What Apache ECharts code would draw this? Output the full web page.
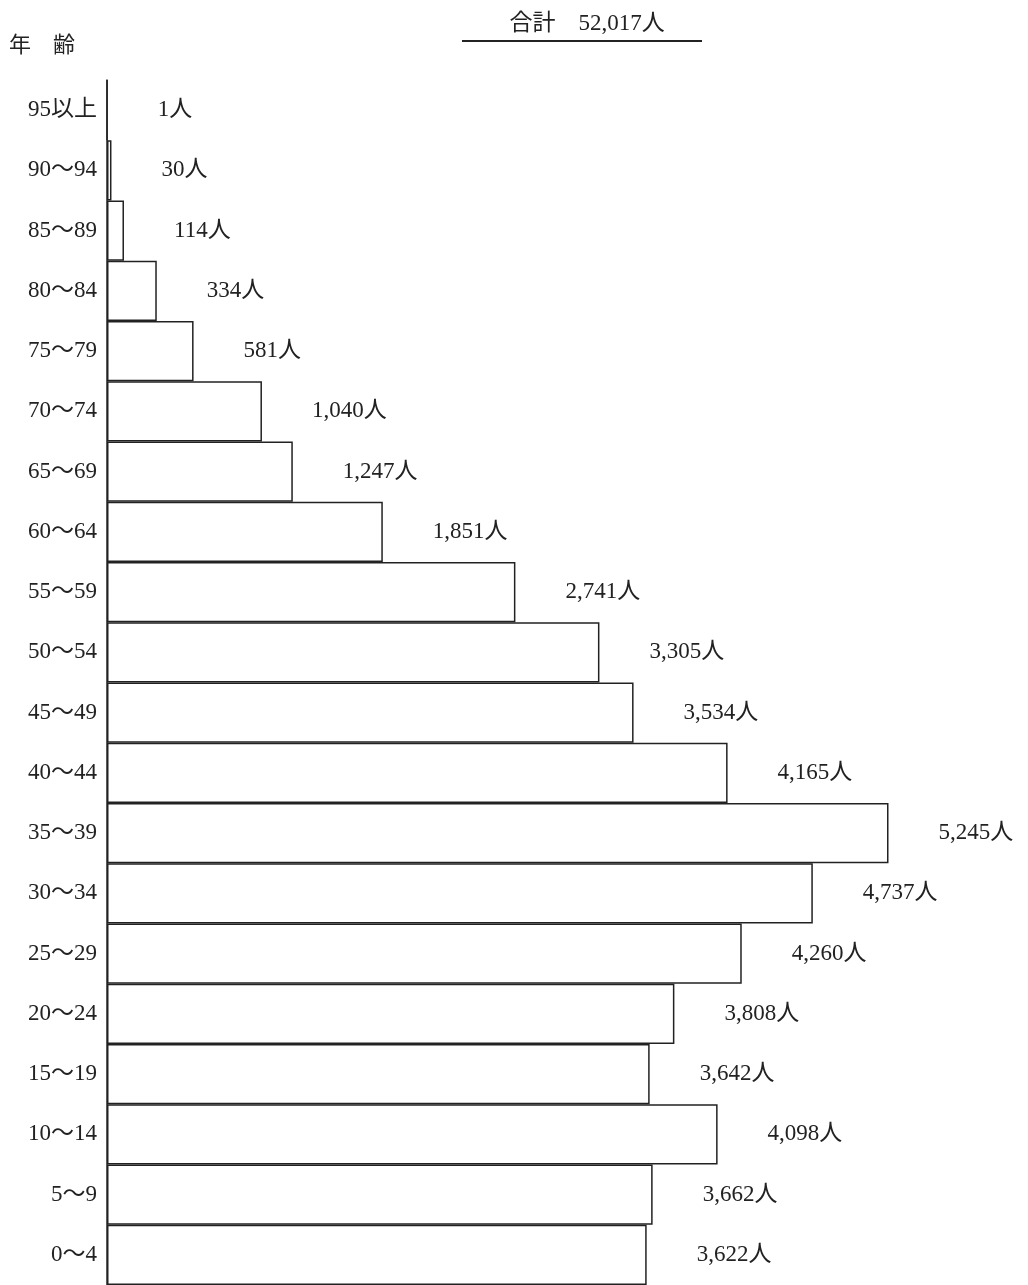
<!DOCTYPE html>
<html><head><meta charset="utf-8">
<script src="https://cdn.jsdelivr.net/npm/echarts@6/dist/echarts.min.js"></script>
<style>html,body{margin:0;padding:0;background:#fff}#c{width:1028px;height:1285px}</style>
</head><body><div id="c"></div>
<script>
const categories = ['95以上','90～94','85～89','80～84','75～79','70～74','65～69','60～64','55～59','50～54','45～49','40～44','35～39','30～34','25～29','20～24','15～19','10～14','5～9','0～4'];
const values = [1,30,114,334,581,1040,1247,1851,2741,3305,3534,4165,5245,4737,4260,3808,3642,4098,3662,3622];
const titleText = '合計　52,017人';
const axisTitle = '年　齢';
const FONT = '"Liberation Serif","Noto Sans CJK JP",serif';
const chart = echarts.init(document.getElementById('c'));
chart.setOption({
  backgroundColor:'#fff',
  animation:false,
  title:{text:titleText,left:582,top:7,textAlign:'center',
    textStyle:{fontFamily:FONT,fontSize:23,fontWeight:'normal',color:'#222'}},
  graphic:[
    {type:'line',shape:{x1:462,y1:41,x2:702,y2:41},style:{stroke:'#222',lineWidth:2}},
    {type:'text',left:9,top:33,style:{text:axisTitle,font:'22px "Noto Sans CJK JP",serif',fill:'#222'}}
  ],
  grid:{left:107,top:80,width:894,height:1208,containLabel:false},
  xAxis:{type:'value',min:0,max:6000,show:false},
  yAxis:{type:'category',data:categories,inverse:true,
    axisLine:{show:true,lineStyle:{color:'#222',width:1.5}},
    axisTick:{show:false},
    axisLabel:{fontFamily:FONT,fontSize:23,color:'#222',margin:10}},
  series:[{type:'bar',data:values,barCategoryGap:0,
    itemStyle:{color:'#fff',borderColor:'#222',borderWidth:1.5},
    label:{show:true,position:'right',distance:50,formatter:p=>p.value.toLocaleString('en-US')+'人',
      fontFamily:FONT,fontSize:23,color:'#222'}}]
});
</script></body></html>
